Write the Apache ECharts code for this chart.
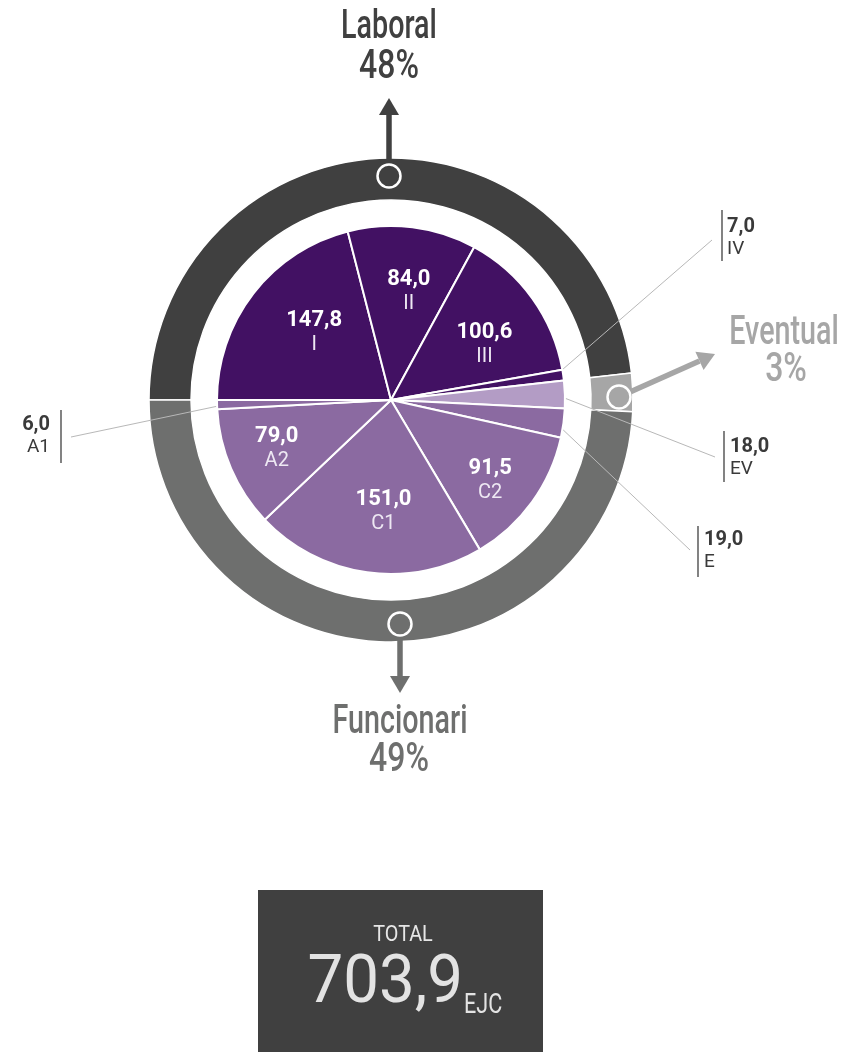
<!DOCTYPE html>
<html><head><meta charset="utf-8">
<script src="https://cdn.jsdelivr.net/npm/echarts@6/dist/echarts.min.js"></script>
<style>html,body{margin:0;padding:0;background:#fff}#c{width:843px;height:1052px}</style>
</head><body><div id="c"></div>
<script>
// ---- data ----
const categories = ['I','II','III','IV','EV','E','C2','C1','A2','A1'];
const values     = [147.8, 84.0, 100.6, 7.0, 18.0, 19.0, 91.5, 151.0, 79.0, 6.0];
const groupOf    = ['Laboral','Laboral','Laboral','Laboral','Eventual','Funcionari','Funcionari','Funcionari','Funcionari','Funcionari'];
const groups     = ['Laboral','Eventual','Funcionari'];
const smallCategories = ['IV','EV','E','A1'];
const totalTitle = 'TOTAL';
const totalUnit  = 'EJC';

// ---- styles ----
const F = "Roboto,'Liberation Sans',sans-serif";
const innerColor = {Laboral:'#421163', Eventual:'#b39cc5', Funcionari:'#8b6aa1'};
const ringColor  = {Laboral:'#404040', Eventual:'#a6a6a6', Funcionari:'#6e6f6e'};
const CX = 391, CY = 400;
const fmt = v => v.toFixed(1).replace('.', ',');

const groupTotals = groups.map(g => values.reduce((s, v, i) => s + (groupOf[i] === g ? v : 0), 0));
const total = values.reduce((a, b) => a + b, 0);
const groupPct = groupTotals.map(v => Math.round(v / total * 100) + '%');

// label placement for the small slices (text anchor, leader end)
const smallLayout = {
  IV: {x: 727, y: 215, align: 'left',  end: [712, 240]},
  EV: {x: 730, y: 435, align: 'left',  end: [715, 457]},
  E:  {x: 704, y: 528, align: 'left',  end: [690, 550]},
  A1: {x: 50,  y: 413, align: 'right', end: [71, 437]}
};
// small nudges of the inside labels
const insideNudge = {I: [18, 6], II: [3, 11], III: [-4, 15], A2: [-4, 1], C1: [9, -7], C2: [2, 10]};

const chart = echarts.init(document.getElementById('c'), null, {renderer: 'canvas'});

const innerData = categories.map((c, i) => ({
  name: c, value: values[i],
  itemStyle: {color: innerColor[groupOf[i]]},
  label: {show: smallCategories.includes(c)},
  labelLine: {show: smallCategories.includes(c)}
}));
const overlayData = categories.map((c, i) => ({
  name: c, value: values[i],
  label: {show: !smallCategories.includes(c)}
}));

function txt(x, y, text, size, color, opt) {
  opt = opt || {};
  return {
    type: 'text', x: x, y: y, scaleX: opt.sx || 1, scaleY: opt.sy || 1, silent: true, z: 10,
    style: {text: text, x: 0, y: 0, fontSize: size, fontFamily: opt.family || F, fontWeight: opt.weight || 'normal',
      fill: color, align: opt.align || 'center', textAlign: opt.align || 'center',
      verticalAlign: 'middle', textVerticalAlign: 'middle'}
  };
}
function vbar(x, y1, y2) {
  return {type: 'line', silent: true, shape: {x1: x, y1: y1, x2: x, y2: y2}, style: {stroke: '#404040', lineWidth: 1.3}};
}
function marker(x, y, color) {
  return {type: 'circle', silent: true, z: 10, shape: {cx: x, cy: y, r: 11.5}, style: {fill: color, stroke: '#fff', lineWidth: 2.5}};
}
function arrow(x1, y1, x2, y2, color) {
  const dx = x2 - x1, dy = y2 - y1, L = Math.hypot(dx, dy), ux = dx / L, uy = dy / L;
  const hl = 17, hw = 10;
  const bx = x2 - ux * hl, by = y2 - uy * hl;
  return [
    {type: 'line', silent: true, z: 9, shape: {x1: x1, y1: y1, x2: bx, y2: by}, style: {stroke: color, lineWidth: 5.5}},
    {type: 'polygon', silent: true, z: 9, shape: {points: [[x2, y2], [bx - uy * hw, by + ux * hw], [bx + uy * hw, by - ux * hw]]}, style: {fill: color}}
  ];
}

const SX = 0.70, SP = 0.78;
const graphics = [].concat(
  arrow(389, 165, 389, 98, ringColor.Laboral),
  arrow(630, 392, 715, 354, ringColor.Eventual),
  arrow(400, 636, 400, 693, ringColor.Funcionari),
  [
    marker(389, 176, ringColor.Laboral),
    marker(619, 397, ringColor.Eventual),
    marker(400, 624, ringColor.Funcionari),
    txt(389, 28, groups[0], 41, ringColor.Laboral, {sx: SX, weight: 500}),
    txt(389, 68, groupPct[0], 41, ringColor.Laboral, {sx: SP, weight: 500}),
    txt(784, 334, groups[1], 41, ringColor.Eventual, {sx: SX, weight: 500}),
    txt(786, 371, groupPct[1], 41, ringColor.Eventual, {sx: SP, weight: 500}),
    txt(400, 723, groups[2], 41, ringColor.Funcionari, {sx: SX, weight: 500}),
    txt(399, 761, groupPct[2], 41, ringColor.Funcionari, {sx: SP, weight: 500}),
    vbar(722, 210, 261), vbar(724, 431, 482), vbar(698, 526, 577), vbar(61, 410, 463),
    {type: 'rect', silent: true, shape: {x: 258, y: 890, width: 285, height: 162}, style: {fill: '#404040'}},
    txt(403, 935, totalTitle, 22.5, '#e6e6e6', {sx: 0.88}),
    txt(463, 985, fmt(total), 67, '#e3e3e3', {align: 'right', sx: 0.95}),
    txt(464, 1006, totalUnit, 28, '#e3e3e3', {align: 'left', sx: 0.77})
  ]
);

chart.setOption({
  animation: false,
  backgroundColor: '#fff',
  series: [
    {
      type: 'pie', silent: true, z: 1, center: [CX, CY], radius: [200, 242], startAngle: 180, clockwise: true,
      label: {show: false}, labelLine: {show: false},
      itemStyle: {borderColor: '#fff', borderWidth: 1.5},
      emphasis: {disabled: true},
      data: groups.map((g, i) => ({name: g, value: groupTotals[i], itemStyle: {color: ringColor[g]}}))
    },
    {
      type: 'pie', silent: true, z: 3, center: [CX, CY], radius: [0, 174], startAngle: 180, clockwise: true,
      avoidLabelOverlap: false,
      itemStyle: {borderColor: '#fff', borderWidth: 2},
      emphasis: {disabled: true},
      label: {
        position: 'outside',
        formatter: p => '{v|' + fmt(p.value) + '}\n{n|' + p.name + '}',
        rich: {
          v: {fontFamily: F, fontSize: 20, fontWeight: 'bold', color: '#3a3a3a', lineHeight: 23},
          n: {fontFamily: F, fontSize: 19, color: '#3a3a3a', lineHeight: 23}
        }
      },
      labelLine: {lineStyle: {color: '#b8b8b8', width: 1}},
      labelLayout: function (p) {
        const L = smallLayout[categories[p.dataIndex]];
        if (!L) return {};
        const res = {x: L.x, y: L.y, align: L.align, verticalAlign: 'top'};
        if (p.labelLinePoints && p.labelLinePoints[0]) {
          const s = p.labelLinePoints[0];
          const k = 0.95;
          res.labelLinePoints = [[CX + (s[0] - CX) * k, CY + (s[1] - CY) * k], L.end];
        }
        return res;
      },
      data: innerData
    },
    {
      type: 'pie', silent: true, center: [CX, CY], radius: [0, 234], startAngle: 180, clockwise: true,
      avoidLabelOverlap: false, z: 5,
      itemStyle: {color: 'rgba(0,0,0,0)', borderWidth: 0},
      emphasis: {disabled: true},
      labelLine: {show: false},
      label: {
        position: 'inside',
        formatter: p => '{v|' + fmt(p.value) + '}\n{n|' + p.name + '}',
        rich: {
          v: {fontFamily: F, fontSize: 22, fontWeight: 'bold', color: '#ffffff', lineHeight: 25, textBorderWidth: 0},
          n: {fontFamily: F, fontSize: 20, color: '#eee8f3', lineHeight: 24, textBorderWidth: 0}
        }
      },
      labelLayout: function (p) {
        const n = insideNudge[categories[p.dataIndex]];
        return n ? {dx: n[0], dy: n[1]} : {};
      },
      data: overlayData
    }
  ],
  graphic: graphics
});
</script>
</body></html>
